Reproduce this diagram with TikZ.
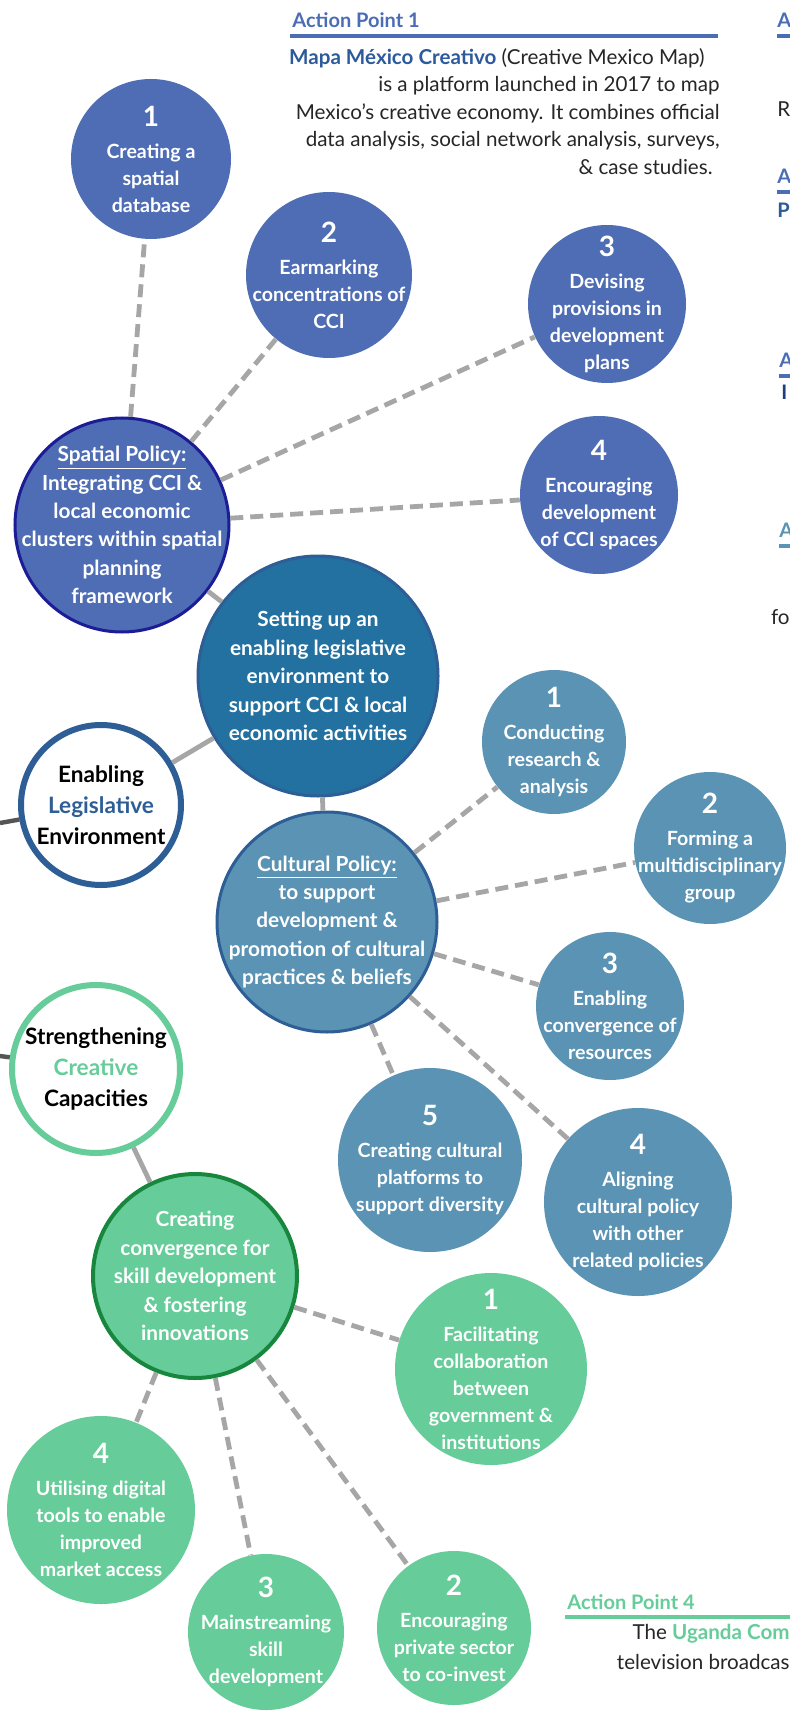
\documentclass[tikz,border=0pt]{standalone}
\usepackage{fontspec}
\setmainfont{Lato}
\usetikzlibrary{arrows.meta}

\definecolor{spblue}{RGB}{79,109,181}
\definecolor{spnavy}{RGB}{28,28,150}
\definecolor{ceblue}{RGB}{35,113,160}
\definecolor{edgeblue}{RGB}{46,94,150}
\definecolor{cublue}{RGB}{90,147,180}
\definecolor{crgreen}{RGB}{102,204,153}
\definecolor{crdark}{RGB}{22,135,60}
\definecolor{linkgray}{RGB}{166,166,166}
\definecolor{stubgray}{RGB}{85,85,85}
\definecolor{apblue}{RGB}{74,109,181}
\definecolor{apdark}{RGB}{45,90,155}
\definecolor{apnavy}{RGB}{30,62,125}

\newcommand{\smalltxt}{\bfseries\fontsize{9.8}{13.5}\selectfont}
\newcommand{\midtxt}{\bfseries\fontsize{10.4}{14.2}\selectfont}
\newcommand{\bigtxt}{\bfseries\fontsize{11.3}{15.5}\selectfont}
\newcommand{\aptxt}{\fontsize{10.3}{13.75}\selectfont}
\newcommand{\ptno}[1]{{\fontsize{14}{16}\selectfont #1}\\[2.5pt]}

\begin{document}
\begin{tikzpicture}[x=0.5pt,y=-0.5pt]
 	\tikzstyle{sp-node}=[circle,fill=spblue,text=white,inner sep=-25pt,align=center,font=\smalltxt]
 	\tikzstyle{ce-node}=[circle,fill=ceblue,draw=edgeblue,line width=1.5pt,text=white,inner sep=-25pt,align=center,font=\midtxt]
 	\tikzstyle{cu-node}=[circle,fill=cublue,text=white,inner sep=-25pt,align=center,font=\smalltxt]
 	\tikzstyle{cr-node}=[circle,fill=crgreen,text=white,inner sep=-25pt,align=center,font=\smalltxt]
 	\tikzstyle{hub-node}=[circle,fill=white,line width=3pt,inner sep=-25pt,align=center,font=\bigtxt]
 	\tikzstyle{dash-link}=[draw=linkgray,line width=2.4pt,dash pattern=on 6.5pt off 3.5pt]
 	\tikzstyle{solid-link}=[draw=linkgray,line width=2.4pt]
 	\tikzstyle{stub-link}=[draw=stubgray,line width=2.2pt]
 	\tikzstyle{ap-head}=[inner sep=0pt,font=\bfseries\fontsize{10}{12}\selectfont,text=apblue]
 	\tikzstyle{ap-text}=[inner sep=0pt,font=\aptxt,text=black!85]
 	\tikzstyle{ap-rule}=[line width=2pt]

 	\clip (0,0) rectangle (790,1711);
 	\fill[white] (0,0) rectangle (790,1711);

 	% action point notes
 	\node[ap-head,anchor=west] (ap1-head) at (292,20) {Action Point 1};
 	\draw[ap-rule,apblue] (290,36) -- (718,36);
 	\node[ap-text,anchor=north east,align=right] (ap1-text) at (720,48) {\textcolor{apdark}{\bfseries Mapa México Creativo} (Creative Mexico Map)\hspace*{7.5pt}\\is a platform launched in 2017 to map\\Mexico's creative economy. It combines official\\data analysis, social network analysis, surveys,\\\& case studies.\hspace*{3.5pt}};

 	\node[ap-head,anchor=west] (ap2-head) at (777,20) {A};
 	\draw[ap-rule,apblue] (777,36) -- (790,36);
 	\node[ap-text,anchor=west] (ap2-text) at (777,109) {R};
 	\node[ap-head,anchor=west] (ap3-head) at (777,176) {A};
 	\draw[ap-rule,apblue] (777,192) -- (790,192);
 	\node[ap-head,anchor=west,text=apdark] (ap3-text) at (777,210) {P};
 	\node[ap-head,anchor=west] (ap4-head) at (779,360) {A};
 	\draw[ap-rule,apblue] (779,376) -- (790,376);
 	\node[ap-head,anchor=west,text=apnavy] (ap4-text) at (781,392) {I};
 	\node[ap-head,anchor=west,text=cublue] (ap5-head) at (779,530) {A};
 	\draw[ap-rule,cublue] (779,546) -- (790,546);
 	\node[ap-text,anchor=east] (ap5-text) at (790,617) {fo};

 	\node[ap-head,anchor=west,text=crgreen] (ap6-head) at (567,1602) {Action Point 4};
 	\draw[ap-rule,crgreen] (565,1617) -- (790,1617);
 	\node[ap-text,anchor=east] (ap6-text) at (790,1634) {The \textcolor{crgreen}{\bfseries Uganda Com}};
 	\node[ap-text,anchor=east] (ap6-more) at (790,1662) {television broadcas};

 	% spatial policy
 	\node[sp-node,minimum size=80pt] (sp1) at (151,159) {\ptno{1}Creating a\\spatial\\database};
 	\node[sp-node,minimum size=83pt] (sp2) at (329,275) {\ptno{2}Earmarking\\concentrations of\\CCI};
 	\node[sp-node,minimum size=79pt] (sp3) at (607,304) {\ptno{3}Devising\\provisions in\\development\\plans};
 	\node[sp-node,minimum size=79pt] (sp4) at (599,495) {\ptno{4}Encouraging\\development\\of CCI spaces};
 	\node[sp-node,draw=spnavy,line width=1.5pt,minimum size=107pt,font=\midtxt] (spatial) at (122,525) {\underline{Spatial Policy:}\\Integrating CCI \&\\local economic\\clusters within spatial\\planning\\framework};

 	% legislative environment
 	\node[ce-node,minimum size=120pt] (legis) at (318,676) {Setting up an\\enabling legislative\\environment to\\support CCI \& local\\economic activities};
 	\node[hub-node,draw=edgeblue,minimum size=80pt] (enable) at (101,805) {Enabling\\\textcolor{edgeblue}{Legislative}\\Environment};

 	% cultural policy
 	\node[cu-node,draw=edgeblue,line width=1.5pt,minimum size=110pt,font=\midtxt] (cultural) at (327,922) {\underline{Cultural Policy:}\\to support\\development \&\\promotion of cultural\\practices \& beliefs};
 	\node[cu-node,minimum size=72pt] (cu1) at (554,742) {\ptno{1}Conducting\\research \&\\analysis};
 	\node[cu-node,minimum size=76pt] (cu2) at (710,848) {\ptno{2}Forming a\\multidisciplinary\\group};
 	\node[cu-node,minimum size=74pt] (cu3) at (610,1006) {\ptno{3}Enabling\\convergence of\\resources};
 	\node[cu-node,minimum size=94pt] (cu4) at (638,1202) {\ptno{4}Aligning\\cultural policy\\with other\\related policies};
 	\node[cu-node,minimum size=92pt] (cu5) at (430,1160) {\ptno{5}Creating cultural\\platforms to\\support diversity};

 	% creative capacities
 	\node[hub-node,draw=crgreen,minimum size=84pt] (creative) at (96,1069) {Strengthening\\\textcolor{crgreen}{Creative}\\Capacities};
 	\node[cr-node,draw=crdark,line width=2pt,minimum size=102pt,font=\midtxt] (skills) at (195,1276) {Creating\\convergence for\\skill development\\\& fostering\\innovations};
 	\node[cr-node,minimum size=96pt] (cr1) at (491,1369) {\ptno{1}Facilitating\\collaboration\\between\\government \&\\institutions};
 	\node[cr-node,minimum size=77pt] (cr2) at (454,1628) {\ptno{2}Encouraging\\private sector\\to co-invest};
 	\node[cr-node,minimum size=78pt] (cr3) at (266,1632) {\ptno{3}Mainstreaming\\skill\\development};
 	\node[cr-node,minimum size=94pt] (cr4) at (101,1510) {\ptno{4}Utilising digital\\tools to enable\\improved\\market access};

 	% stubs from the left edge
 	\coordinate (stub1) at (0,823);
 	\coordinate (stub2) at (0,1056);

 	\path (spatial)	edge[dash-link]	(sp1)
 		(spatial)	edge[dash-link]	(sp2)
 		(spatial)	edge[dash-link]	(sp3)
 		(spatial)	edge[dash-link]	(sp4)
 		(spatial)	edge[solid-link]	(legis)
 		(enable)	edge[solid-link]	(legis)
 		(legis)	edge[solid-link]	(cultural)
 		(cultural)	edge[dash-link]	(cu1)
 		(cultural)	edge[dash-link]	(cu2)
 		(cultural)	edge[dash-link]	(cu3)
 		(cultural)	edge[dash-link]	(cu4)
 		(cultural)	edge[dash-link]	(cu5)
 		(creative)	edge[solid-link]	(skills)
 		(skills)	edge[dash-link]	(cr1)
 		(skills)	edge[dash-link]	(cr2)
 		(skills)	edge[dash-link]	(cr3)
 		(skills)	edge[dash-link]	(cr4)
 		(stub1)	edge[stub-link]	(enable)
 		(stub2)	edge[stub-link]	(creative);

\end{tikzpicture}
\end{document}
